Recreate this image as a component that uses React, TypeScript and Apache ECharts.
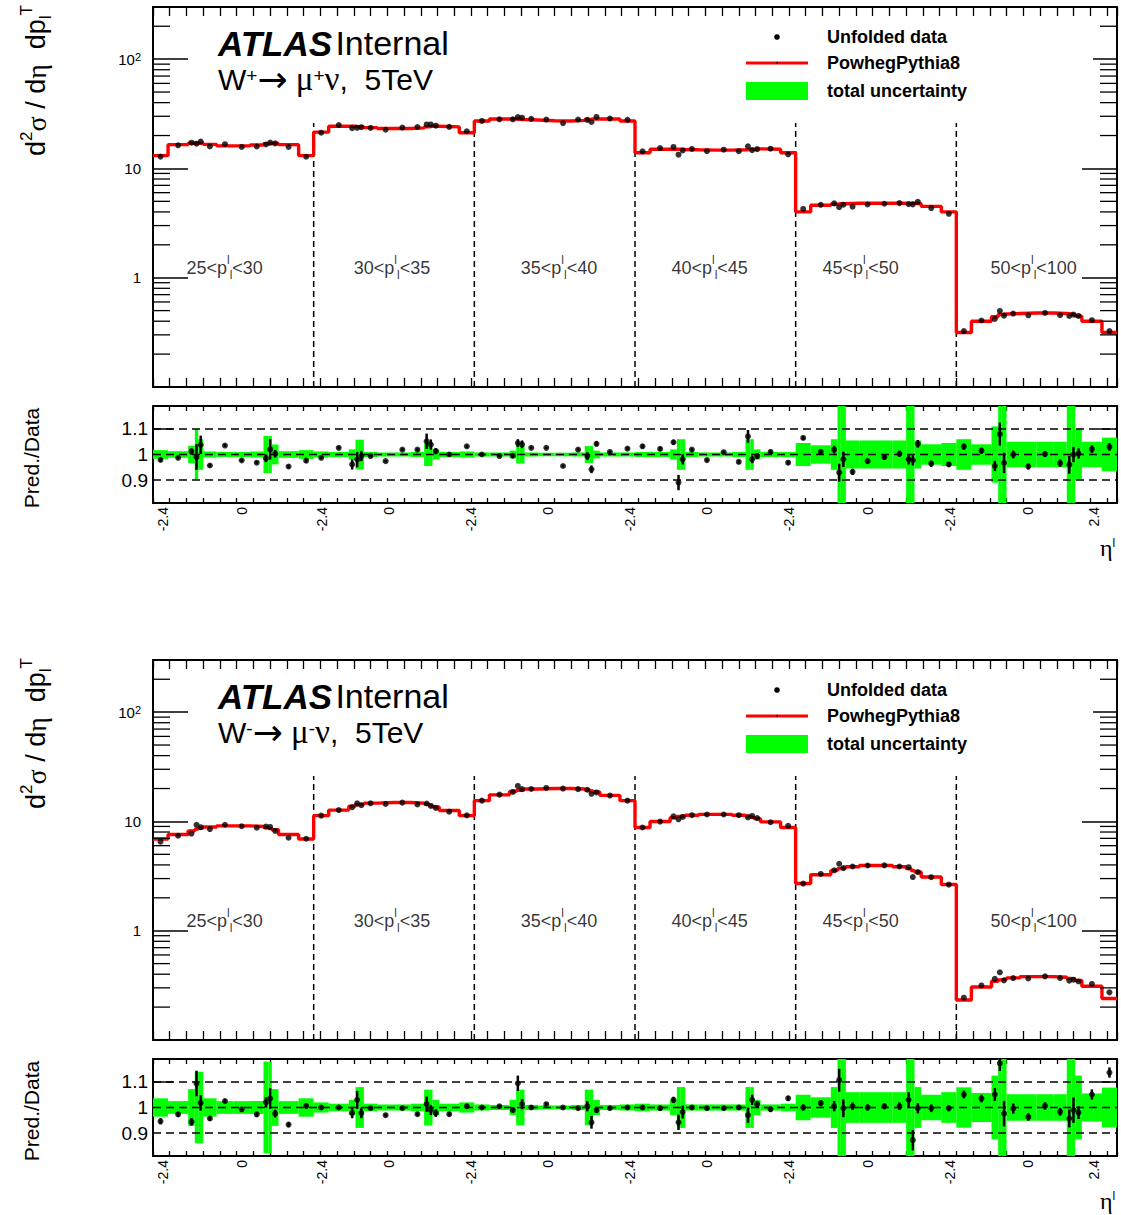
import React, { useEffect, useRef } from "react";
import * as echarts from "echarts";

// ---------------- data ----------------
// eta bin edges inside one pT block (14 bins)
const etaEdges = [-2.4, -1.95, -1.35, -1.15, -1.05, -0.9, -0.5, 0, 0.5, 0.9, 1.05, 1.15, 1.35, 1.95, 2.4];
const ptLow = [25, 30, 35, 40, 45, 50];
const ptHigh = [30, 35, 40, 45, 50, 100];
const blockSpan = 4.8;
const xMax = 28.8;

// W+ : PowhegPythia8 prediction (red step), per block of 14 eta bins
const predWplus = [
  13.1, 16.5, 17.0, 17.0, 17.0, 16.6, 16.1, 16.1, 16.4, 16.8, 16.9, 16.9, 16.5, 13.1,
  21.5, 24.3, 24.3, 24.0, 24.0, 23.6, 23.2, 23.2, 23.5, 24.0, 24.3, 24.3, 24.0, 21.2,
  27.2, 28.3, 28.3, 28.2, 28.0, 27.7, 27.3, 27.2, 27.5, 28.0, 28.3, 28.4, 28.3, 27.2,
  13.9, 15.0, 15.0, 15.0, 14.9, 14.8, 14.7, 14.7, 14.8, 14.9, 15.0, 15.1, 15.0, 13.9,
  4.0, 4.6, 4.7, 4.75, 4.75, 4.8, 4.8, 4.8, 4.8, 4.8, 4.8, 4.75, 4.5, 4.0,
  0.315, 0.40, 0.44, 0.46, 0.465, 0.47, 0.475, 0.475, 0.47, 0.465, 0.46, 0.445, 0.40, 0.315,
];
// W+ : ratio panel points
const ratioWplus = [
  0.979, 0.987, 1.012, 0.99, 1.038, 0.957, 1.035, 0.977, 0.968, 0.985, 1.02, 1.003, 0.953, 0.976,
  0.987, 1.026, 0.961, 0.98, 0.994, 0.994, 0.974, 1.019, 1.019, 1.052, 1.039, 1.013, 1.0, 1.032,
  1.0, 0.994, 0.995, 1.045, 1.04, 1.026, 1.026, 0.955, 1.019, 0.994, 0.942, 1.042, 1.01, 1.023,
  1.032, 1.022, 1.048, 0.89, 0.981, 1.019, 0.978, 1.009, 0.971, 1.071, 0.981, 0.994, 1.01, 0.968,
  1.065, 1.01, 1.019, 0.929, 0.981, 0.932, 0.974, 0.99, 1.003, 0.981, 0.977, 1.042, 0.964, 0.961,
  1.031, 1.015, 0.955, 1.08, 0.967, 1.0, 0.953, 1.002, 0.966, 0.96, 1.0, 1.004, 1.021, 1.03,
];
const errWplus = [
  0.008, 0.006, 0.012, 0.05, 0.036, 0.006, 0.006, 0.006, 0.006, 0.015, 0.04, 0.015, 0.008, 0.008,
  0.006, 0.006, 0.02, 0.03, 0.02, 0.005, 0.005, 0.005, 0.005, 0.03, 0.02, 0.012, 0.006, 0.006,
  0.005, 0.005, 0.01, 0.015, 0.015, 0.005, 0.005, 0.005, 0.005, 0.015, 0.015, 0.01, 0.005, 0.006,
  0.008, 0.008, 0.01, 0.03, 0.02, 0.007, 0.006, 0.006, 0.007, 0.025, 0.015, 0.012, 0.008, 0.008,
  0.008, 0.01, 0.015, 0.035, 0.03, 0.012, 0.01, 0.01, 0.012, 0.02, 0.02, 0.015, 0.012, 0.01,
  0.012, 0.012, 0.02, 0.045, 0.04, 0.015, 0.012, 0.012, 0.015, 0.035, 0.03, 0.02, 0.015, 0.015,
];
const uncWplus = [
  0.017, 0.013, 0.034, 0.10, 0.06, 0.012, 0.01, 0.01, 0.012, 0.073, 0.073, 0.039, 0.013, 0.017,
  0.012, 0.01, 0.02, 0.058, 0.058, 0.01, 0.008, 0.008, 0.01, 0.045, 0.045, 0.02, 0.01, 0.012,
  0.008, 0.008, 0.015, 0.035, 0.035, 0.008, 0.007, 0.007, 0.008, 0.033, 0.033, 0.015, 0.008, 0.008,
  0.01, 0.01, 0.02, 0.06, 0.06, 0.01, 0.008, 0.008, 0.01, 0.06, 0.06, 0.02, 0.01, 0.01,
  0.045, 0.036, 0.06, 0.19, 0.19, 0.055, 0.055, 0.055, 0.055, 0.19, 0.19, 0.055, 0.04, 0.045,
  0.06, 0.04, 0.11, 0.19, 0.19, 0.05, 0.05, 0.05, 0.05, 0.19, 0.19, 0.10, 0.05, 0.066,
];

// W- : prediction
const predWminus = [
  6.9, 7.6, 8.2, 8.5, 8.7, 8.9, 9.1, 9.1, 9.0, 8.8, 8.6, 8.4, 7.6, 6.9,
  11.3, 12.7, 13.8, 14.2, 14.4, 14.7, 14.9, 14.9, 14.7, 14.4, 14.0, 13.6, 12.6, 11.3,
  15.5, 17.5, 18.8, 19.3, 19.5, 19.8, 20.0, 20.0, 19.8, 19.4, 19.0, 18.6, 17.3, 15.5,
  8.8, 10.0, 10.8, 11.1, 11.2, 11.4, 11.6, 11.6, 11.4, 11.2, 10.9, 10.6, 9.9, 8.8,
  2.7, 3.25, 3.55, 3.7, 3.75, 3.85, 3.95, 3.95, 3.85, 3.7, 3.55, 3.45, 3.1, 2.65,
  0.232, 0.305, 0.345, 0.355, 0.36, 0.37, 0.38, 0.38, 0.375, 0.365, 0.36, 0.35, 0.31, 0.24,
];
const ratioWminus = [
  0.946, 0.973, 0.944, 1.094, 1.018, 0.957, 1.025, 0.993, 0.973, 1.02, 1.035, 0.976, 0.933, 1.006,
  1.0, 1.0, 0.978, 1.03, 0.978, 0.997, 0.97, 0.997, 0.974, 1.013, 0.99, 0.978, 0.974, 1.005,
  1.0, 1.005, 0.99, 1.095, 1.013, 1.0, 1.013, 1.0, 0.997, 1.005, 0.942, 0.99, 0.997, 1.0,
  1.0, 0.997, 1.03, 0.942, 0.982, 1.0, 0.997, 0.997, 1.0, 0.97, 1.03, 1.013, 0.993, 1.036,
  1.0, 1.017, 1.005, 1.107, 0.997, 1.005, 1.0, 1.005, 1.005, 1.03, 0.872, 0.997, 0.997, 0.997,
  1.051, 1.035, 1.051, 1.173, 0.976, 0.996, 0.963, 1.006, 0.983, 0.957, 0.99, 0.98, 1.051, 1.137,
];
const errWminus = [
  0.012, 0.01, 0.015, 0.05, 0.03, 0.01, 0.008, 0.008, 0.01, 0.02, 0.04, 0.015, 0.01, 0.01,
  0.008, 0.008, 0.02, 0.035, 0.02, 0.007, 0.006, 0.006, 0.007, 0.03, 0.02, 0.015, 0.008, 0.008,
  0.006, 0.006, 0.012, 0.03, 0.02, 0.006, 0.006, 0.006, 0.006, 0.02, 0.025, 0.012, 0.006, 0.006,
  0.01, 0.01, 0.012, 0.03, 0.025, 0.008, 0.008, 0.008, 0.008, 0.03, 0.02, 0.012, 0.01, 0.01,
  0.012, 0.012, 0.02, 0.045, 0.035, 0.015, 0.012, 0.012, 0.015, 0.03, 0.04, 0.02, 0.015, 0.012,
  0.015, 0.015, 0.025, 0.03, 0.05, 0.02, 0.015, 0.015, 0.015, 0.035, 0.05, 0.025, 0.02, 0.02,
];
const uncWminus = [
  0.036, 0.025, 0.072, 0.14, 0.14, 0.036, 0.025, 0.025, 0.025, 0.18, 0.18, 0.072, 0.025, 0.036,
  0.02, 0.015, 0.03, 0.08, 0.08, 0.015, 0.012, 0.012, 0.015, 0.07, 0.07, 0.03, 0.015, 0.02,
  0.012, 0.01, 0.03, 0.07, 0.07, 0.01, 0.008, 0.008, 0.01, 0.07, 0.07, 0.03, 0.01, 0.012,
  0.015, 0.012, 0.03, 0.08, 0.08, 0.012, 0.012, 0.012, 0.012, 0.08, 0.08, 0.03, 0.012, 0.015,
  0.05, 0.04, 0.08, 0.19, 0.19, 0.06, 0.06, 0.06, 0.06, 0.19, 0.19, 0.08, 0.05, 0.06,
  0.079, 0.057, 0.125, 0.19, 0.19, 0.052, 0.052, 0.052, 0.052, 0.19, 0.19, 0.125, 0.055, 0.078,
];

// x tick labels of the ratio panels (as printed)
const xTickLabelText = ["-2.4", "0", "-2.4", "0", "-2.4", "0", "-2.4", "0", "-2.4", "0", "-2.4", "0", "2.4"];
const xTickLabelPos = [0.3, 2.65, 5.05, 7.05, 9.5, 11.8, 14.25, 16.55, 19.0, 21.35, 23.8, 26.15, 28.1];
// annotation anchor of the pT-range text in each block (x in axis units, y value)
const ptLabelX = [2.14, 7.14, 12.13, 16.63, 21.14, 26.31];
const ptLabelY = 1.23;
const blockLineTop = 26;

// ---------------- helpers ----------------
const SANS = "'Liberation Sans', Arial, Helvetica, sans-serif";
const SERIF = "'Liberation Serif', 'DejaVu Serif', 'Times New Roman', serif";
const ARROW = "'DejaVu Sans', 'Liberation Sans', sans-serif";

type Bin = { xl: number; xr: number; xc: number };
const bins: Bin[] = [];
for (let b = 0; b < ptLow.length; b++) {
  for (let i = 0; i < etaEdges.length - 1; i++) {
    const xl = b * blockSpan + (etaEdges[i] - etaEdges[0]);
    const xr = b * blockSpan + (etaEdges[i + 1] - etaEdges[0]);
    bins.push({ xl, xr, xc: (xl + xr) / 2 });
  }
}
const blockBoundaries: number[] = [];
for (let b = 1; b < ptLow.length; b++) blockBoundaries.push(b * blockSpan);

const logMinor: number[] = [];
for (let e = -1; e <= 2; e++) {
  for (let m = 2; m <= 9; m++) {
    const v = m * Math.pow(10, e);
    if (v < 299) logMinor.push(v);
  }
}

function stepPoints(pred: number[]) {
  const pts: number[][] = [];
  bins.forEach((bn, k) => {
    pts.push([bn.xl, pred[k]], [bn.xr, pred[k]]);
  });
  return pts;
}

const minorTickRender = (len: number) => (params: any, api: any) => {
  const v = api.value(1);
  const p = api.coord([0, v]);
  const cs = params.coordSys;
  return {
    type: "group",
    children: [
      { type: "line", shape: { x1: cs.x, y1: p[1], x2: cs.x + len, y2: p[1] }, style: { stroke: "#000", lineWidth: 1.3 } },
      { type: "line", shape: { x1: cs.x + cs.width - len, y1: p[1], x2: cs.x + cs.width, y2: p[1] }, style: { stroke: "#000", lineWidth: 1.3 } },
    ],
  };
};

const vLineRender = (params: any, api: any) => {
  const x = api.value(0);
  const p1 = api.coord([x, api.value(1)]);
  const p2 = api.coord([x, api.value(2)]);
  return {
    type: "line",
    shape: { x1: p1[0], y1: p1[1], x2: p2[0], y2: p2[1] },
    style: { stroke: "#000", lineWidth: 1.5, lineDash: [6, 4] },
  };
};

const bandRender = (params: any, api: any) => {
  const p1 = api.coord([api.value(0), api.value(3)]);
  const p2 = api.coord([api.value(1), api.value(2)]);
  const cs = params.coordSys;
  const shape = echarts.graphic.clipRectByRect(
    { x: p1[0], y: p1[1], width: p2[0] - p1[0], height: p2[1] - p1[1] },
    { x: cs.x, y: cs.y, width: cs.width, height: cs.height }
  );
  if (!shape) return null;
  return { type: "rect", shape, style: { fill: "#00ff00" } };
};

const errRender = (params: any, api: any) => {
  const x = api.value(0);
  const cs = params.coordSys;
  const p1 = api.coord([x, api.value(1)]);
  const p2 = api.coord([x, api.value(2)]);
  const y1 = Math.min(Math.max(p1[1], cs.y), cs.y + cs.height);
  const y2 = Math.min(Math.max(p2[1], cs.y), cs.y + cs.height);
  return { type: "line", shape: { x1: p1[0], y1, x2: p2[0], y2 }, style: { stroke: "#000", lineWidth: 2.5 } };
};

function xAxesFor(g: number, ratio: boolean) {
  const tickLen = ratio ? 5 : 9;
  const common = {
    gridIndex: g,
    type: "value",
    min: 0,
    max: xMax,
    interval: 0.5,
    axisLine: { show: true, onZero: false, lineStyle: { color: "#000", width: 2 } },
    axisTick: { show: true, inside: true, length: tickLen, lineStyle: { color: "#000", width: 1.3 } },
    splitLine: { show: false },
  };
  const bottom: any = {
    ...common,
    position: "bottom",
    axisLabel: ratio
      ? {
          show: true,
          customValues: xTickLabelPos,
          rotate: 90,
          margin: 4,
          fontSize: 14,
          fontFamily: SANS,
          color: "#000",
          formatter: (v: number) => {
            const i = xTickLabelPos.findIndex((p) => Math.abs(p - v) < 1e-6);
            return i >= 0 ? xTickLabelText[i] : "";
          },
        }
      : { show: false },
  };
  const top: any = { ...common, position: "top", axisLabel: { show: false } };
  return [bottom, top];
}

function yAxesFor(g: number, ratio: boolean) {
  if (!ratio) {
    const common = {
      gridIndex: g,
      type: "log",
      logBase: 10,
      min: 0.1,
      max: 300,
      axisLine: { show: true, onZero: false, lineStyle: { color: "#000", width: 2 } },
      axisTick: { show: true, inside: true, length: 35, lineStyle: { color: "#000", width: 1.5 } },
      splitLine: { show: false },
    };
    const left: any = {
      ...common,
      position: "left",
      axisLabel: {
        show: true,
        margin: 12,
        fontSize: 15,
        fontFamily: SANS,
        color: "#000",
        formatter: (v: number) => {
          const l = Math.log10(v);
          const e = Math.round(l);
          if (Math.abs(l - e) > 1e-6) return "";
          if (e === 0) return "1";
          if (e === 1) return "10";
          if (e === 2) return "10{s|2}";
          return "";
        },
        rich: { s: { fontSize: 11, fontFamily: SANS, color: "#000", verticalAlign: "top", lineHeight: 11, padding: [0, 0, 7, 0] } },
      },
    };
    const right: any = { ...common, position: "right", axisLabel: { show: false } };
    return [left, right];
  }
  const common = {
    gridIndex: g,
    type: "value",
    min: 0.81,
    max: 1.19,
    axisLine: { show: true, onZero: false, lineStyle: { color: "#000", width: 2 } },
    axisTick: { show: true, inside: true, length: 20, customValues: [1, 1.1], lineStyle: { color: "#000", width: 1.5 } },
    splitLine: { show: false },
  };
  const left: any = {
    ...common,
    position: "left",
    axisLabel: {
      show: true,
      customValues: [0.9, 1, 1.1],
      margin: 5,
      fontSize: 19,
      fontFamily: SANS,
      color: "#000",
      formatter: (v: number) => (Math.abs(v - 1) < 1e-9 ? "1" : v.toFixed(1)),
    },
  };
  const right: any = { ...common, position: "right", axisLabel: { show: false } };
  return [left, right];
}

function mainSeries(g: number, pred: number[], ratio: number[]) {
  const ax = { xAxisIndex: 2 * g, yAxisIndex: 2 * g };
  return [
    {
      type: "custom",
      ...ax,
      silent: true,
      renderItem: minorTickRender(17),
      data: logMinor.map((v) => [0, v]),
      encode: { x: 0, y: 1 },
      z: 5,
    },
    {
      type: "custom",
      ...ax,
      silent: true,
      renderItem: vLineRender,
      data: blockBoundaries.map((x) => [x, 0.1, blockLineTop]),
      encode: { x: 0, y: [1, 2] },
      z: 2,
    },
    {
      type: "line",
      ...ax,
      name: "PowhegPythia8",
      data: stepPoints(pred),
      symbol: "none",
      lineStyle: { color: "#ff0000", width: 3.4 },
      z: 3,
    },
    {
      type: "scatter",
      ...ax,
      name: "Unfolded data",
      data: bins.map((bn, k) => [bn.xc, pred[k] * ratio[k]]),
      symbol: "circle",
      symbolSize: 6,
      itemStyle: { color: "#000" },
      z: 4,
    },
    {
      type: "scatter",
      ...ax,
      silent: true,
      data: ptLabelX.map((x, b) => [x, ptLabelY, b]),
      symbol: "circle",
      symbolSize: 0.1,
      itemStyle: { color: "rgba(0,0,0,0)" },
      label: {
        show: true,
        position: "inside",
        color: "#000",
        fontSize: 18,
        fontFamily: SANS,
        lineHeight: 27,
        formatter: (p: any) => `${ptLow[p.value[2]]}<p{sup|l}{sub|l}<${ptHigh[p.value[2]]}`,
        rich: {
          sup: { fontSize: 12, fontFamily: SANS, lineHeight: 12, verticalAlign: "top", color: "#000" },
          sub: { fontSize: 12, fontFamily: SANS, lineHeight: 12, verticalAlign: "bottom", color: "#000" },
        },
      },
      z: 6,
    },
  ];
}

function ratioSeries(g: number, ratio: number[], err: number[], unc: number[]) {
  const ax = { xAxisIndex: 2 * g, yAxisIndex: 2 * g };
  const dashed = (v: number) => ({
    type: "line",
    ...ax,
    silent: true,
    data: [
      [0, v],
      [xMax, v],
    ],
    symbol: "none",
    lineStyle: { color: "#000", width: 1.5, type: [8, 5] },
    z: 2,
  });
  return [
    {
      type: "custom",
      ...ax,
      name: "total uncertainty",
      renderItem: bandRender,
      data: bins.map((bn, k) => [bn.xl, bn.xr, 1 - unc[k], 1 + unc[k]]),
      encode: { x: [0, 1], y: [2, 3] },
      z: 1,
    },
    dashed(0.9),
    dashed(1.0),
    dashed(1.1),
    {
      type: "custom",
      ...ax,
      renderItem: errRender,
      data: bins.map((bn, k) => [bn.xc, ratio[k] - err[k], ratio[k] + err[k]]),
      encode: { x: 0, y: [1, 2] },
      z: 3,
    },
    {
      type: "scatter",
      ...ax,
      data: bins.map((bn, k) => [bn.xc, ratio[k]]),
      symbol: "circle",
      symbolSize: 6,
      itemStyle: { color: "#000" },
      z: 4,
    },
  ];
}

function panelGraphics(dy: number, sign: string, ratioTop: number) {
  const legendText = (x: number, y: number, text: string) => ({
    type: "text",
    x,
    y,
    z: 11,
    style: { text, fill: "#000", fontSize: 18, fontWeight: "bold", fontFamily: SANS, align: "left", verticalAlign: "middle" },
  });
  return [
    { type: "rect", z: 10, shape: { x: 740, y: 18 + dy, width: 353, height: 90 }, style: { fill: "#fff" } },
    { type: "circle", z: 11, shape: { cx: 777, cy: 37 + dy, r: 2.8 }, style: { fill: "#000" } },
    legendText(827, 37 + dy, "Unfolded data"),
    { type: "line", z: 11, shape: { x1: 746, y1: 63 + dy, x2: 808, y2: 63 + dy }, style: { stroke: "#ff0000", lineWidth: 3 } },
    { type: "circle", z: 12, shape: { cx: 777, cy: 63 + dy, r: 1 }, style: { fill: "#000" } },
    legendText(827, 63 + dy, "PowhegPythia8"),
    { type: "rect", z: 11, shape: { x: 746, y: 82 + dy, width: 62, height: 18 }, style: { fill: "#00ff00" } },
    legendText(827, 91 + dy, "total uncertainty"),
    {
      type: "text",
      z: 11,
      x: 218,
      y: 43 + dy,
      style: {
        text: "{a|ATLAS} {b|Internal}",
        fill: "#000",
        verticalAlign: "middle",
        align: "left",
        rich: {
          a: { fontSize: 35, fontWeight: "bold", fontStyle: "italic", fontFamily: SANS, fill: "#000", lineHeight: 30 },
          b: { fontSize: 34, fontFamily: SANS, fill: "#000", lineHeight: 30 },
        },
      },
    },
    {
      type: "text",
      z: 11,
      x: 218,
      y: 79 + dy,
      style: {
        text: `{n|W}{s|${sign}}{a|\u2192}{g| \u03bc}{s|${sign}}{g|\u03bd}{n|,  5TeV}`,
        fill: "#000",
        verticalAlign: "middle",
        align: "left",
        rich: {
          n: { fontSize: 30, fontFamily: SANS, fill: "#000", lineHeight: 26 },
          a: { fontSize: 36, fontFamily: ARROW, fill: "#000", lineHeight: 26 },
          g: { fontSize: 33, fontFamily: SERIF, fill: "#000", lineHeight: 26 },
          s: { fontSize: 19, fontFamily: SANS, fill: "#000", verticalAlign: "top", lineHeight: 14 },
        },
      },
    },
    // main y title
    {
      type: "text",
      z: 11,
      x: 36,
      y: 5 + dy,
      rotation: Math.PI / 2,
      style: {
        text: "{n|d}{s|2}{g|\u03c3}{n| / d}{g|\u03b7}{n|  dp}{b|l}{s|T}",
        fill: "#000",
        align: "right",
        verticalAlign: "middle",
        rich: {
          n: { fontSize: 27, fontFamily: SANS, fill: "#000", lineHeight: 36 },
          g: { fontSize: 28, fontFamily: SERIF, fill: "#000", lineHeight: 36 },
          s: { fontSize: 17, fontFamily: SANS, fill: "#000", verticalAlign: "top", lineHeight: 17 },
          b: { fontSize: 17, fontFamily: SANS, fill: "#000", verticalAlign: "bottom", lineHeight: 17 },
        },
      },
    },
    // ratio y title
    {
      type: "text",
      z: 11,
      x: 31,
      y: ratioTop + 52,
      rotation: Math.PI / 2,
      style: { text: "Pred./Data", fill: "#000", fontSize: 21, fontFamily: SANS, align: "center", verticalAlign: "middle" },
    },
    // x title
    {
      type: "text",
      z: 11,
      x: 1100,
      y: ratioTop + 142,
      style: {
        text: "{g|\u03b7}{s|l}",
        fill: "#000",
        align: "left",
        verticalAlign: "middle",
        rich: {
          g: { fontSize: 24, fontFamily: SERIF, fill: "#000", lineHeight: 22 },
          s: { fontSize: 12, fontFamily: SANS, fill: "#000", verticalAlign: "top", lineHeight: 12 },
        },
      },
    },
  ];
}

export default function App() {
  const ref = useRef<HTMLDivElement>(null);
  useEffect(() => {
    if (!ref.current) return;
    const chart = echarts.init(ref.current, undefined, { renderer: "svg" });
    const grids = [
      { left: 153, top: 7, width: 964, height: 380 },
      { left: 153, top: 406, width: 964, height: 97 },
      { left: 153, top: 660, width: 964, height: 380 },
      { left: 153, top: 1059, width: 964, height: 97 },
    ];
    const ratioFlags = [false, true, false, true];
    const xAxis: any[] = [];
    const yAxis: any[] = [];
    ratioFlags.forEach((r, g) => {
      xAxis.push(...xAxesFor(g, r));
      yAxis.push(...yAxesFor(g, r));
    });
    const option: any = {
      animation: false,
      backgroundColor: "#fff",
      textStyle: { fontFamily: SANS },
      grid: grids.map((g) => ({ ...g, containLabel: false })),
      xAxis,
      yAxis,
      series: [
        ...mainSeries(0, predWplus, ratioWplus),
        ...ratioSeries(1, ratioWplus, errWplus, uncWplus),
        ...mainSeries(2, predWminus, ratioWminus),
        ...ratioSeries(3, ratioWminus, errWminus, uncWminus),
      ],
      graphic: [...panelGraphics(0, "+", 406), ...panelGraphics(653, "-", 1059)],
    };
    chart.setOption(option);
    return () => chart.dispose();
  }, []);
  return (
    <div
      ref={ref}
      style={{ position: "absolute", left: 0, top: 0, width: 1121, height: 1215, background: "#fff" }}
    />
  );
}
